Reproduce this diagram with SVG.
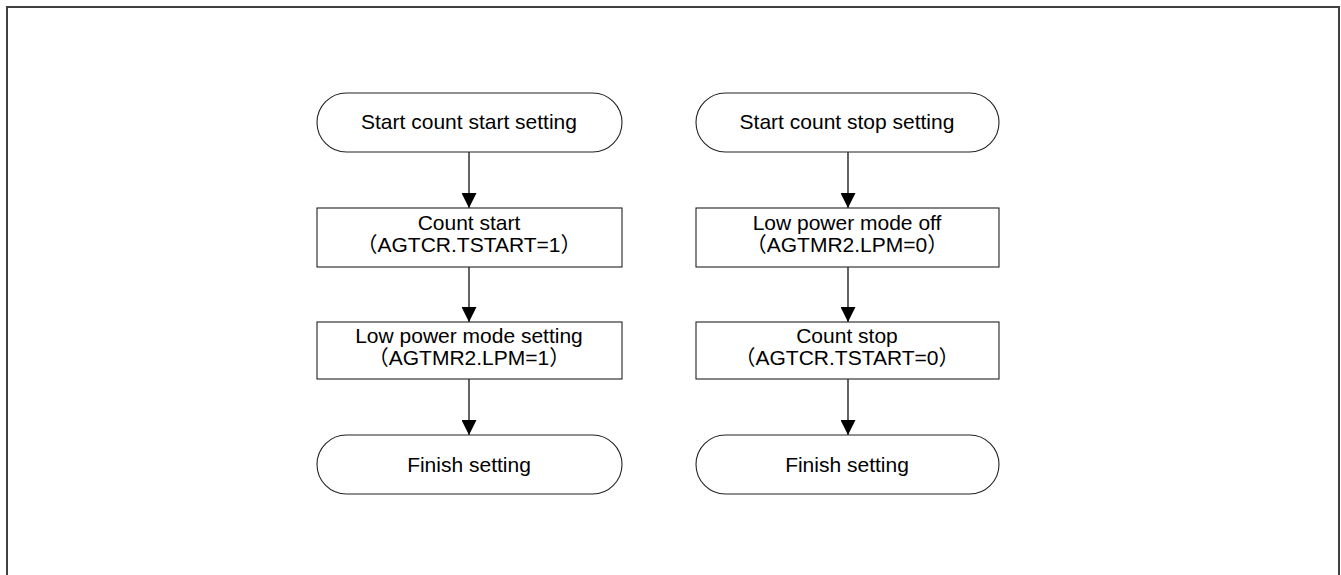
<svg xmlns="http://www.w3.org/2000/svg" width="1341" height="575" viewBox="0 0 1341 575">
<style>
.shape{fill:#fff;stroke:#222;stroke-width:1.1}
.t{font-family:"Liberation Sans","Noto Sans CJK SC",Arial,sans-serif;font-size:21px;fill:#000;text-anchor:middle}
.c{stroke:#222;stroke-width:1.4;fill:none}
</style>
<defs>
<marker id="ah" markerWidth="15" markerHeight="15" refX="15" refY="7.5" orient="auto" markerUnits="userSpaceOnUse">
<path d="M0,0 L15,7.5 L0,15 Z" fill="#000"/>
</marker>
</defs>
<rect width="1341" height="575" fill="#fff"/>
<path d="M7,585 V7 H1339 V585" fill="none" stroke="#404040" stroke-width="2"/>
<g id="connectors">
<line class="c" x1="469" y1="152" x2="469" y2="208" marker-end="url(#ah)"/>
<line class="c" x1="469" y1="267" x2="469" y2="322" marker-end="url(#ah)"/>
<line class="c" x1="469" y1="379" x2="469" y2="435" marker-end="url(#ah)"/>
<line class="c" x1="848" y1="152" x2="848" y2="208" marker-end="url(#ah)"/>
<line class="c" x1="848" y1="267" x2="848" y2="322" marker-end="url(#ah)"/>
<line class="c" x1="848" y1="379" x2="848" y2="435" marker-end="url(#ah)"/>
</g>
<g id="start-left">
<rect class="shape" x="317" y="93" width="305" height="59" rx="29.5" ry="29.5"/>
<text class="t" x="469" y="129">Start count start setting</text>
</g>
<g id="count-start">
<rect class="shape" x="317" y="208" width="305" height="59"/>
<text class="t" x="469" y="230">Count start</text>
<text class="t" x="469" y="252">（AGTCR.TSTART=1）</text>
</g>
<g id="lpm-set">
<rect class="shape" x="317" y="322" width="305" height="57"/>
<text class="t" x="469" y="343">Low power mode setting</text>
<text class="t" x="469" y="365">（AGTMR2.LPM=1）</text>
</g>
<g id="finish-left">
<rect class="shape" x="317" y="435" width="305" height="59" rx="29.5" ry="29.5"/>
<text class="t" x="469" y="472">Finish setting</text>
</g>
<g id="start-right">
<rect class="shape" x="696" y="93" width="303" height="59" rx="29.5" ry="29.5"/>
<text class="t" x="847" y="129">Start count stop setting</text>
</g>
<g id="lpm-off">
<rect class="shape" x="696" y="208" width="303" height="59"/>
<text class="t" x="847" y="230">Low power mode off</text>
<text class="t" x="847" y="252">（AGTMR2.LPM=0）</text>
</g>
<g id="count-stop">
<rect class="shape" x="696" y="322" width="303" height="57"/>
<text class="t" x="847" y="343">Count stop</text>
<text class="t" x="847" y="365">（AGTCR.TSTART=0）</text>
</g>
<g id="finish-right">
<rect class="shape" x="696" y="435" width="303" height="59" rx="29.5" ry="29.5"/>
<text class="t" x="847" y="472">Finish setting</text>
</g>
</svg>
